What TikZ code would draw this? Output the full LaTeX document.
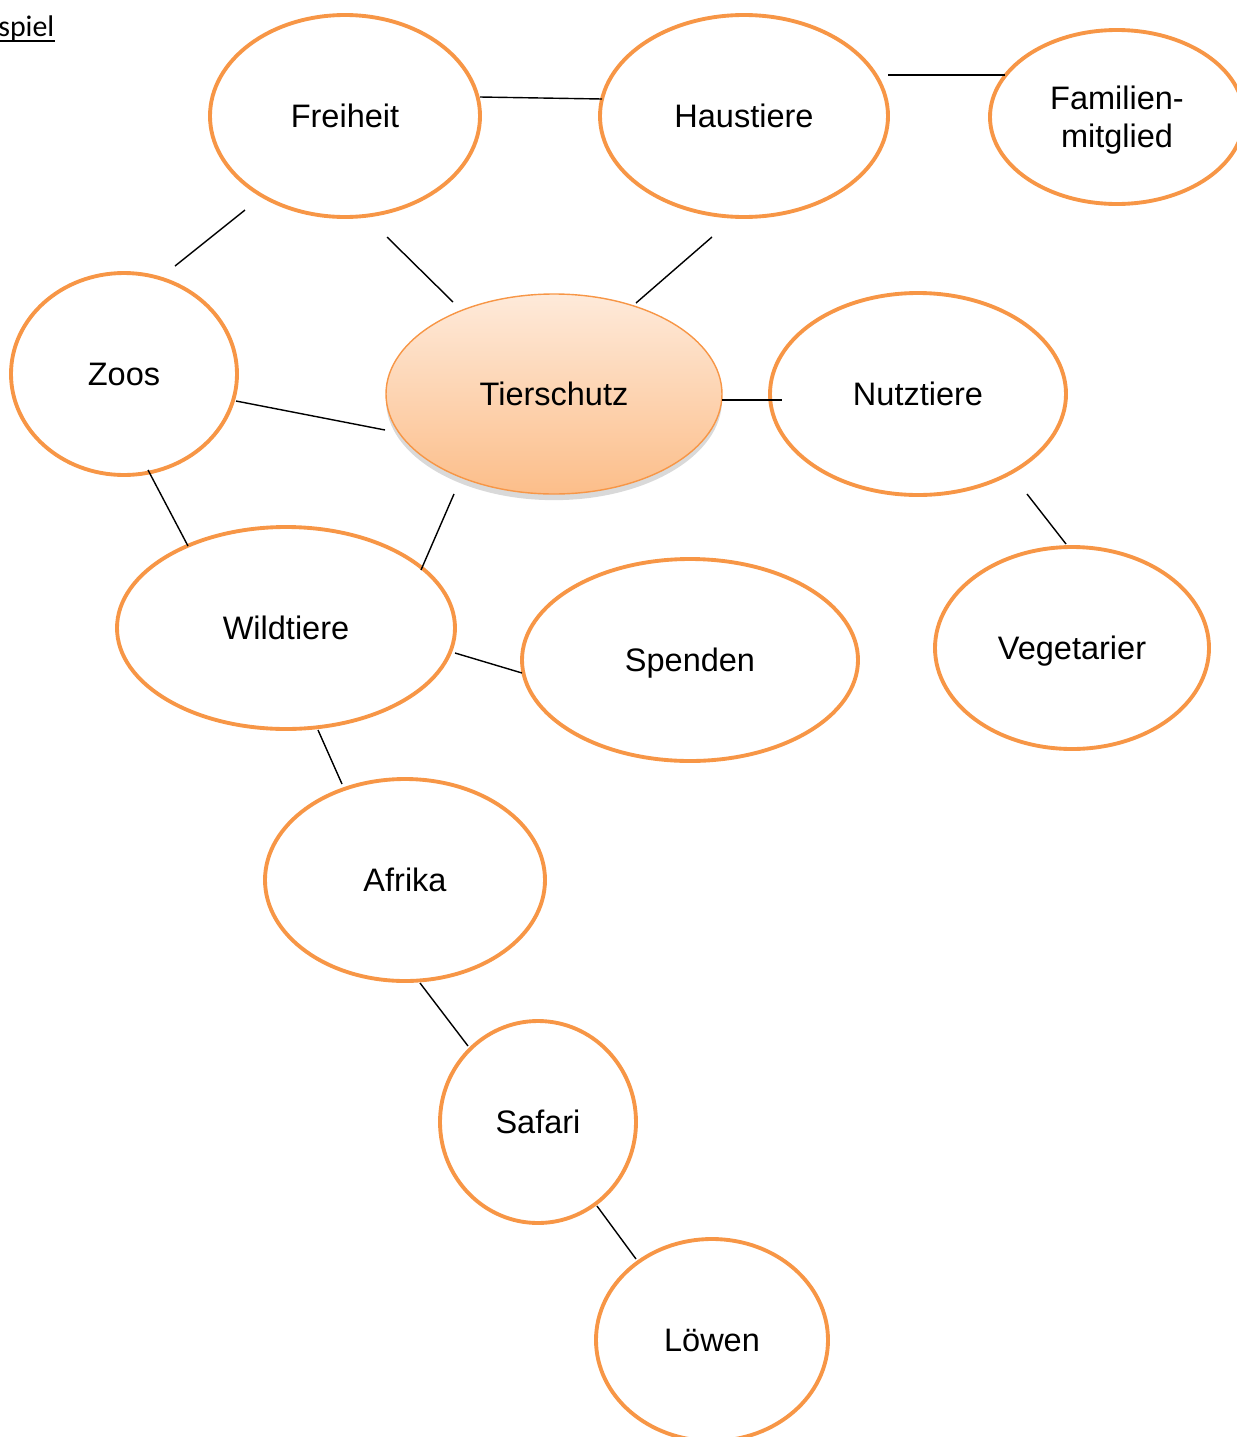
\documentclass[tikz,border=0pt]{standalone}
\usepackage{fontspec}
\setmainfont{Liberation Sans}
\newfontfamily\carlito{Carlito}
\usetikzlibrary{shapes, shadows}

\definecolor{mapOrange}{RGB}{247,150,70}
\definecolor{mapTop}{RGB}{254,234,218}
\definecolor{mapBottom}{RGB}{252,190,138}

\begin{document}
\begin{tikzpicture}[x=0.02cm, y=-0.02cm,
        topic/.style={ellipse, draw=mapOrange, line width=2.2pt, fill=white, inner sep=0pt, text depth=0pt, font=\fontsize{18.5}{21.5}\selectfont, align=center},
        core/.style={ellipse, draw=mapOrange, line width=0.8pt, top color=mapTop, bottom color=mapBottom, inner sep=0pt, font=\fontsize{18.5}{21.5}\selectfont,
            drop shadow={opacity=0.3, shadow xshift=0pt, shadow yshift=-3.5pt}},
        link/.style={line width=0.8pt}
    ]
        \useasboundingbox (0,0) rectangle (1237,1437);

        % Heading
        \node[anchor=base west, inner sep=0pt, font=\carlito\fontsize{17}{20}\selectfont] (head) at (-2,36) {spiel};
        \draw[line width=1.1pt] (head.base west) ++(0,5) coordinate (ul) -- (ul -| head.base east);

        % Centre
        \node[core, minimum width=336*0.02cm, minimum height=200*0.02cm] (ti) at (554,394) {Tierschutz};

        % Topics
        \node[topic, minimum width=270*0.02cm, minimum height=202*0.02cm] (fr) at (345,116) {Freiheit};
        \node[topic, minimum width=288*0.02cm, minimum height=202*0.02cm] (ha) at (744,116) {Haustiere};
        \node[topic, minimum width=254*0.02cm, minimum height=174*0.02cm] (fa) at (1117,117) {Familien-\\mitglied};
        \node[topic, minimum width=226*0.02cm, minimum height=202*0.02cm] (zo) at (124,374) {Zoos};
        \node[topic, minimum width=296*0.02cm, minimum height=202*0.02cm] (nu) at (918,394) {Nutztiere};
        \node[topic, minimum width=338*0.02cm, minimum height=202*0.02cm] (wi) at (286,628) {Wildtiere};
        \node[topic, minimum width=336*0.02cm, minimum height=202*0.02cm] (sp) at (690,660) {Spenden};
        \node[topic, minimum width=274*0.02cm, minimum height=202*0.02cm] (ve) at (1072,648) {Vegetarier};
        \node[topic, minimum width=280*0.02cm, minimum height=202*0.02cm] (af) at (405,880) {Afrika};
        \node[topic, minimum width=196*0.02cm, minimum height=202*0.02cm] (sa) at (538,1122) {Safari};
        \node[topic, minimum width=232*0.02cm, minimum height=202*0.02cm] (lo) at (712,1340) {L\"owen};

        % Links (free-standing, offset from the centres)
        \draw[link] ([shift={(135,-19)}]fr.center) -- ([shift={(-142,-17)}]ha.center);
        \draw[link] ([shift={(144,-41)}]ha.center) -- ([shift={(-112,-42)}]fa.center);
        \draw[link] ([shift={(-100,94)}]fr.center) -- ([shift={(51,-108)}]zo.center);
        \draw[link] ([shift={(42,121)}]fr.center) -- ([shift={(-101,-92)}]ti.center);
        \draw[link] ([shift={(-32,121)}]ha.center) -- ([shift={(82,-91)}]ti.center);
        \draw[link] ([shift={(112,27)}]zo.center) -- ([shift={(-169,36)}]ti.center);
        \draw[link] ([shift={(168,6)}]ti.center) -- ([shift={(-136,6)}]nu.center);
        \draw[link] ([shift={(109,100)}]nu.center) -- ([shift={(-6,-104)}]ve.center);
        \draw[link] ([shift={(24,96)}]zo.center) -- ([shift={(-98,-82)}]wi.center);
        \draw[link] ([shift={(-100,100)}]ti.center) -- ([shift={(135,-58)}]wi.center);
        \draw[link] ([shift={(169,25)}]wi.center) -- ([shift={(-168,13)}]sp.center);
        \draw[link] ([shift={(32,102)}]wi.center) -- ([shift={(-63,-96)}]af.center);
        \draw[link] ([shift={(15,103)}]af.center) -- ([shift={(-70,-76)}]sa.center);
        \draw[link] ([shift={(59,84)}]sa.center) -- ([shift={(-76,-81)}]lo.center);
    \end{tikzpicture}
\end{document}
